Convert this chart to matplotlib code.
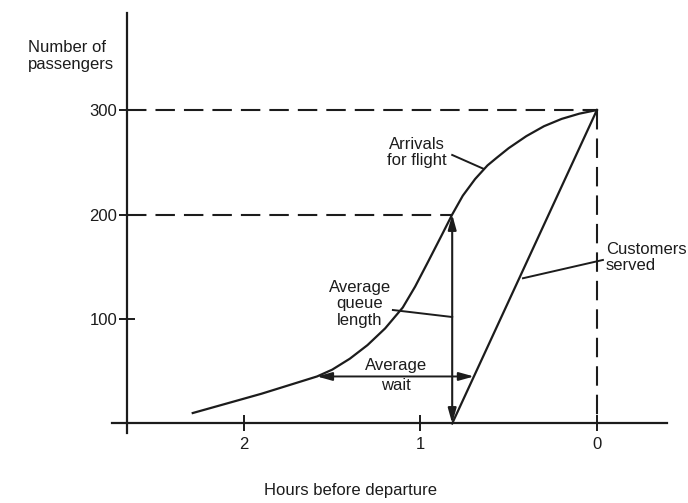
import matplotlib
matplotlib.use('Agg')
import matplotlib.pyplot as plt

# arrivals for flight (hours before departure, cumulative passengers)
arr_hours = [2.29, 2.10, 1.90, 1.70, 1.586, 1.50, 1.40, 1.30, 1.20, 1.10, 1.03,
             0.956, 0.88, 0.82, 0.76, 0.69, 0.62, 0.57, 0.50, 0.40, 0.30,
             0.20, 0.10, 0.00]
arr_pax = [10, 19, 28.5, 39, 45, 51.5, 62, 75, 91, 111, 131,
           155, 180, 200, 218, 234, 247, 254, 263.5, 275, 284.5,
           291.5, 296.5, 300]

# customers served: starts when the desk opens, ends at departure
served_hours = [0.82, 0.00]
served_pax = [0, 300]

queue_hour = 0.82        # where the queue length is measured
queue_top = 200
wait_level = 45          # level of the average wait arrow
wait_from, wait_to = 1.586, 0.697
total_pax = 300

xticks = [2, 1, 0]
yticks = [100, 200, 300]

ink = '#1c1c1c'
plt.rcParams['font.family'] = ['Liberation Sans', 'DejaVu Sans']
plt.rcParams['lines.scale_dashes'] = False

fig = plt.figure(figsize=(6.88, 5.03), dpi=100)
ax = fig.add_axes([0, 0, 1, 1])
ax.set_xlim(3.382, -0.516)
ax.set_ylim(-76.1, 405.3)

y_axis_at = 2.663
for s in ['top', 'right']:
    ax.spines[s].set_visible(False)
ax.spines['left'].set_position(('data', y_axis_at))
ax.spines['left'].set_bounds(-9, 393)
ax.spines['bottom'].set_position(('data', 0))
ax.spines['bottom'].set_bounds(-0.397, 2.748)
for s in ['left', 'bottom']:
    ax.spines[s].set_linewidth(1.6)
    ax.spines[s].set_color(ink)

ax.set_xticks(xticks)
ax.set_xticklabels([str(t) for t in xticks])
ax.set_yticks(yticks)
ax.set_yticklabels([str(t) for t in yticks])
ax.tick_params(axis='x', direction='inout', length=12, width=1.4, pad=4,
               labelsize=12, colors=ink)
ax.tick_params(axis='y', direction='inout', length=12, width=1.4, pad=1,
               labelsize=12, colors=ink)
ax.patch.set_alpha(0)

# dashed guides
dash = (14, 6.5)
ax.plot([y_axis_at, 0], [total_pax, total_pax], color=ink, lw=1.5, dashes=dash)
ax.plot([0, 0], [total_pax, 0], color=ink, lw=1.5, dashes=dash)
ax.plot([y_axis_at, queue_hour], [queue_top, queue_top], color=ink, lw=1.5, dashes=dash)

# curves
ax.plot(arr_hours, arr_pax, color=ink, lw=1.6, solid_joinstyle='round')
ax.plot(served_hours, served_pax, color=ink, lw=1.6)

# queue length arrow and wait arrow
ax.annotate('', xy=(queue_hour, queue_top), xytext=(queue_hour, 0),
            arrowprops=dict(arrowstyle='<|-|>,head_length=0.9,head_width=0.25',
                            color=ink, lw=1.5, shrinkA=0, shrinkB=0))
ax.annotate('', xy=(wait_from, wait_level), xytext=(wait_to, wait_level),
            arrowprops=dict(arrowstyle='<|-|>,head_length=0.9,head_width=0.25',
                            color=ink, lw=1.4, shrinkA=0, shrinkB=0))

# leader lines
leaders = [((0.820, 257), (0.646, 244)),
           ((-0.034, 156.5), (0.419, 139)),
           ((1.156, 108.6), (0.820, 101.9))]
for (x0, y0), (x1, y1) in leaders:
    ax.plot([x0, x1], [y0, y1], color=ink, lw=1.4)

kw = dict(fontsize=12, color=ink, linespacing=1.1, va='center')
ax.text(1.02, 259, 'Arrivals\nfor flight', ha='center', **kw)
ax.text(-0.051, 158.9, 'Customers\nserved', ha='left', **kw)
ax.text(1.343, 114.4, 'Average\nqueue\nlength', ha='center', **kw)
ax.text(1.139, 45.9, 'Average\nwait', ha='center', fontsize=12, color=ink,
        linespacing=1.45, va='center')

fig.text(28 / 688, 1 - 56 / 503, 'Number of\npassengers', ha='left', va='center',
         fontsize=12, color=ink, linespacing=1.1)
fig.text(350 / 688, 1 - 490 / 503, 'Hours before departure', ha='center',
         va='center', fontsize=12, color=ink)

fig.savefig('out.png', dpi=100, facecolor='white')
